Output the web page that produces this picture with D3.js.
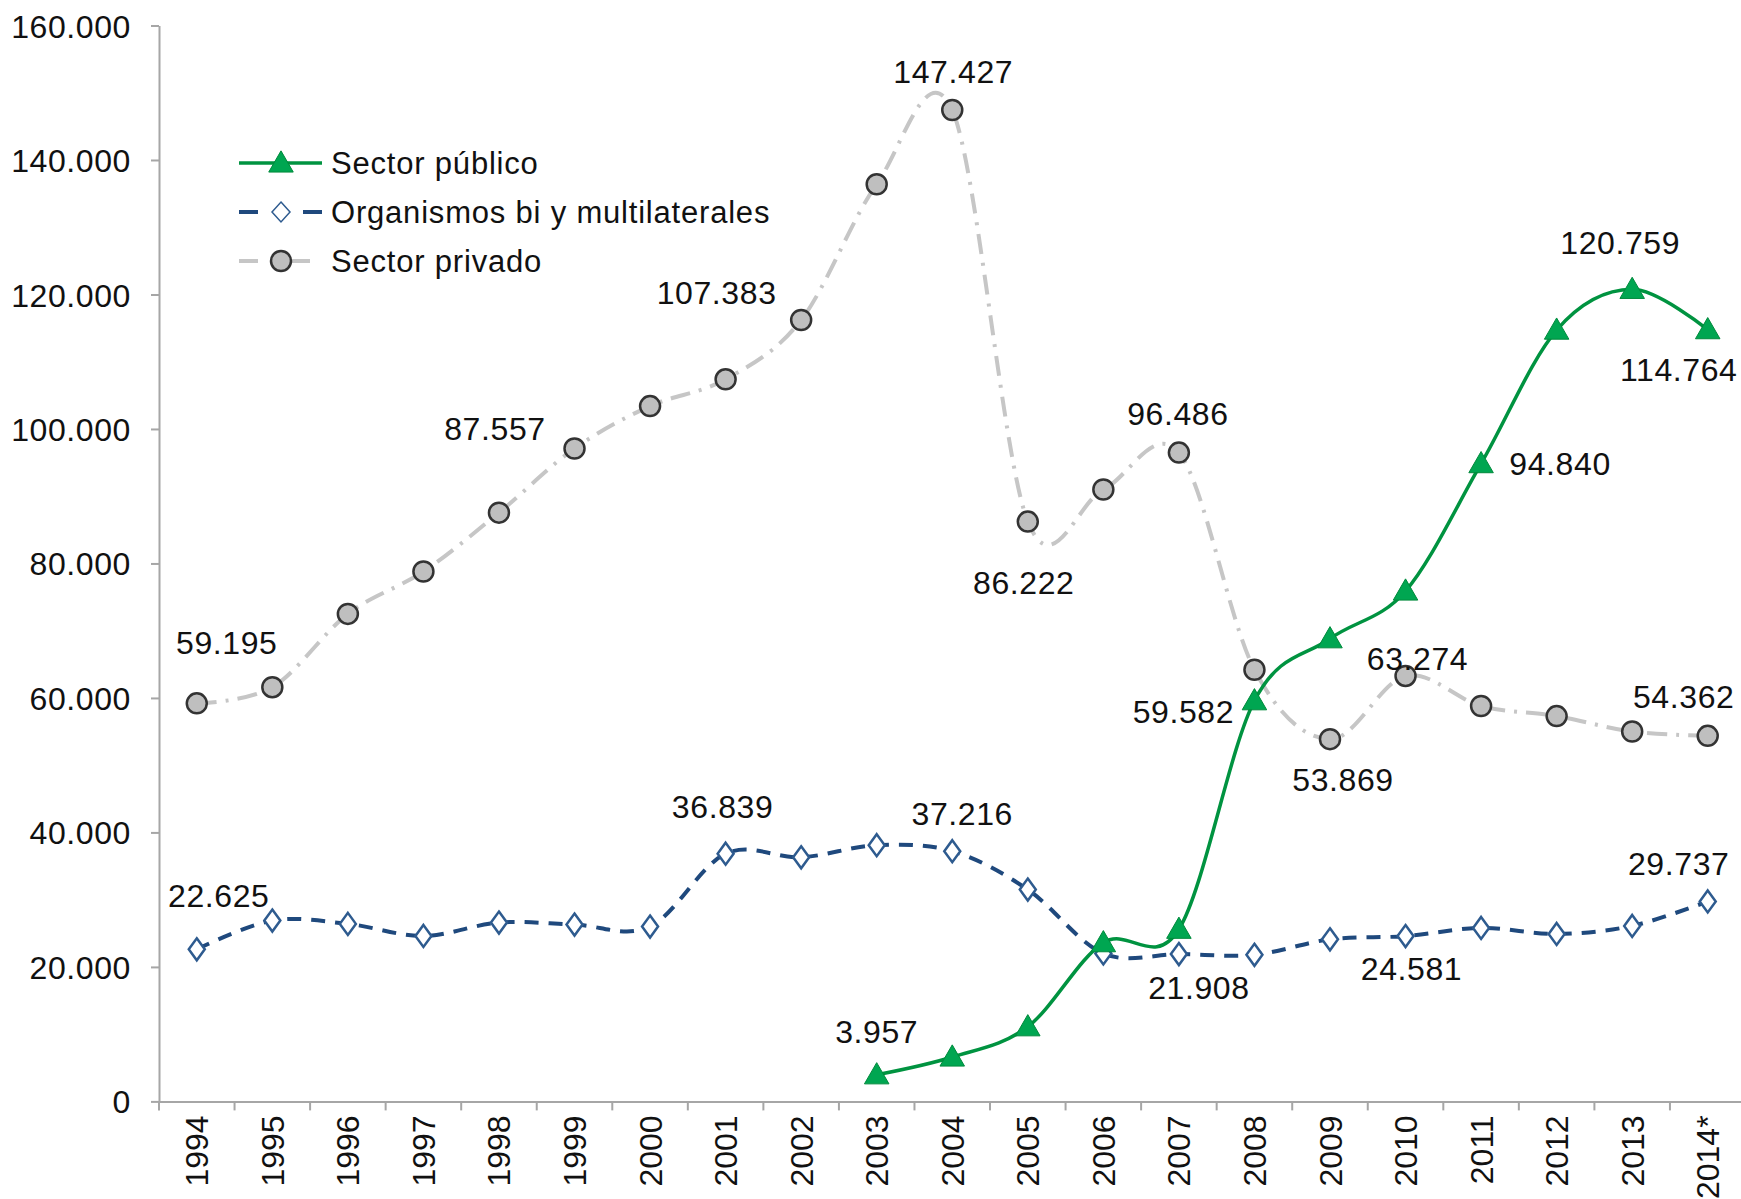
<!DOCTYPE html>
<html>
<head>
<meta charset="utf-8">
<script src="https://cdn.jsdelivr.net/npm/d3@7"></script>
<style>
  body { margin: 0; background: #fff; }
  text { font-family: "Liberation Sans", Arial, sans-serif; fill: #111; }
</style>
</head>
<body>
<div id="chart"></div>
<script>
// categories and series
var years = ["1994","1995","1996","1997","1998","1999","2000","2001","2002","2003","2004",
             "2005","2006","2007","2008","2009","2010","2011","2012","2013","2014*"];
var publico = [null,null,null,null,null,null,null,null,null,3957,6600,
               11100,23600,25600,59582,68800,75900,94840,114700,120759,114764];
var organismos = [22625,26900,26400,24600,26600,26300,26000,36839,36300,38100,37216,
                  31500,22000,21908,21800,24100,24581,25800,24900,26100,29737];
var privado = [59195,61600,72500,78800,87557,97100,103400,107383,116200,136400,147427,
               86222,91000,96486,64200,53869,63274,58800,57300,55000,54362];
var yTicks = [0,20000,40000,60000,80000,100000,120000,140000,160000];
var seriesNames = ["Sector público","Organismos bi y multilaterales","Sector privado"];

// which points carry a value label, and where the label sits relative to the point
var labelsPublico = [[9,0,-43],[14,-71,11],[17,79,0],[19,-12,-47],[20,-29,40]];
var labelsOrganismos = [[0,22,-54],[7,-3,-47],[10,10,-38],[13,20,33],[16,6,32],[20,-29,-38]];
var labelsPrivado = [[0,30,-61],[4,-4,-84],[7,-9,-87],[10,1,-39],[11,-4,61],[13,-1,-39],
                     [15,13,40],[16,12,-17],[20,-24,-39]];

var width = 1741, height = 1199;
var plotLeft = 159, plotTop = 25.5, plotBottom = 1101.4, plotRight = 1745.5;

var fmt = d3.formatLocale({decimal: ",", thousands: ".", grouping: [3], currency: ["", ""]}).format(",.0f");

var svg = d3.select("#chart").append("svg")
  .attr("width", width)
  .attr("height", height);

var x = d3.scaleBand().domain(years).range([plotLeft, plotRight]);
var y = d3.scaleLinear().domain([0, 160000]).range([plotBottom, plotTop]);
var cx = function(i) { return x(years[i]) + x.bandwidth() / 2; };

// axes
var yAxis = svg.append("g")
  .attr("transform", "translate(" + plotLeft + ",0)")
  .call(d3.axisLeft(y).tickValues(yTicks).tickFormat(fmt).tickSize(8).tickSizeOuter(0).tickPadding(20));
yAxis.selectAll("text").style("font-size", "32px").style("letter-spacing", "0.6px").attr("dy", "0.36em");

var xAxis = svg.append("g")
  .attr("transform", "translate(0," + plotBottom + ")")
  .call(d3.axisBottom(x).tickSize(0));
xAxis.selectAll("text")
  .style("font-size", "32px")
  .attr("transform", "rotate(-90)")
  .attr("text-anchor", "end")
  .attr("x", -14)
  .attr("y", 0)
  .attr("dy", "0.36em");
// ticks at band boundaries
xAxis.selectAll(".sep").data(years.concat(["end"])).enter().append("line")
  .attr("class", "sep")
  .attr("x1", function(d, i) { return plotLeft + i * x.bandwidth(); })
  .attr("x2", function(d, i) { return plotLeft + i * x.bandwidth(); })
  .attr("y1", 0).attr("y2", 9);
svg.selectAll(".domain, .tick line, .sep").attr("stroke", "#a6a6a6").attr("stroke-width", 2);

// lines
var curve = d3.curveCardinal.tension(0);
function drawLine(values, color, w, dash) {
  var line = d3.line()
    .defined(function(d) { return d != null; })
    .x(function(d, i) { return cx(i); })
    .y(function(d) { return y(d); })
    .curve(curve);
  svg.append("path")
    .datum(values)
    .attr("d", line)
    .attr("fill", "none")
    .attr("stroke", color)
    .attr("stroke-width", w)
    .attr("stroke-dasharray", dash);
}
drawLine(privado, "#c6c6c6", 4, "20,9,3,9");
drawLine(organismos, "#1f497d", 4, "14,10");
drawLine(publico, "#009340", 3.5, null);

// markers
var triangle = d3.symbol().type(d3.symbolTriangle).size(260);
function circleMarks(g) { g.attr("r", 10).attr("fill", "#bfbfbf").attr("stroke", "#333").attr("stroke-width", 2.5); }
function diamondMarks(g) { g.attr("d", "M0,-11L8,0L0,11L-8,0Z").attr("fill", "#fff").attr("stroke", "#2e5b8f").attr("stroke-width", 2.5); }
function triangleMarks(g) { g.attr("d", triangle).attr("fill", "#00a651").attr("stroke", "#008a3c").attr("stroke-width", 1); }

svg.selectAll(".mp").data(privado).enter().append("circle")
  .attr("cx", function(d, i) { return cx(i); })
  .attr("cy", function(d) { return y(d); })
  .call(circleMarks);
svg.selectAll(".mo").data(organismos).enter().append("path")
  .attr("transform", function(d, i) { return "translate(" + cx(i) + "," + y(d) + ")"; })
  .call(diamondMarks);
svg.selectAll(".mpub").data(publico.map(function(d, i) { return [i, d]; }).filter(function(d) { return d[1] != null; }))
  .enter().append("path")
  .attr("transform", function(d) { return "translate(" + cx(d[0]) + "," + (y(d[1]) + 2) + ")"; })
  .call(triangleMarks);

// value labels
function drawLabels(values, labels) {
  svg.append("g").selectAll("text").data(labels).enter().append("text")
    .attr("x", function(d) { return cx(d[0]) + d[1]; })
    .attr("y", function(d) { return y(values[d[0]]) + d[2]; })
    .attr("text-anchor", "middle")
    .attr("dy", "0.36em")
    .style("font-size", "32px")
    .style("letter-spacing", "0.6px")
    .text(function(d) { return fmt(values[d[0]]); });
}
drawLabels(privado, labelsPrivado);
drawLabels(organismos, labelsOrganismos);
drawLabels(publico, labelsPublico);

// legend
var lg = svg.append("g");
var rows = [163, 212, 261];
lg.append("line").attr("x1", 239).attr("x2", 322).attr("y1", rows[0]).attr("y2", rows[0])
  .attr("stroke", "#009340").attr("stroke-width", 3.5);
lg.append("path").attr("transform", "translate(281," + (rows[0] + 2) + ")").call(triangleMarks);
[[239, 258], [303, 322]].forEach(function(s) {
  lg.append("line").attr("x1", s[0]).attr("x2", s[1]).attr("y1", rows[1]).attr("y2", rows[1])
    .attr("stroke", "#1f497d").attr("stroke-width", 4);
});
lg.append("path").attr("transform", "translate(281," + rows[1] + ")").call(diamondMarks)
  .attr("stroke-width", 1.5).attr("d", "M0,-10L9,0L0,10L-9,0Z");
[[239, 258], [290, 310]].forEach(function(s) {
  lg.append("line").attr("x1", s[0]).attr("x2", s[1]).attr("y1", rows[2]).attr("y2", rows[2])
    .attr("stroke", "#c6c6c6").attr("stroke-width", 4);
});
lg.append("circle").attr("cx", 281).attr("cy", rows[2]).call(circleMarks);
lg.selectAll(".lt").data(seriesNames).enter().append("text")
  .attr("x", 331)
  .attr("y", function(d, i) { return rows[i]; })
  .attr("dy", "0.36em")
  .style("font-size", "31px")
  .style("letter-spacing", "0.8px")
  .text(function(d) { return d; });
</script>
</body>
</html>
